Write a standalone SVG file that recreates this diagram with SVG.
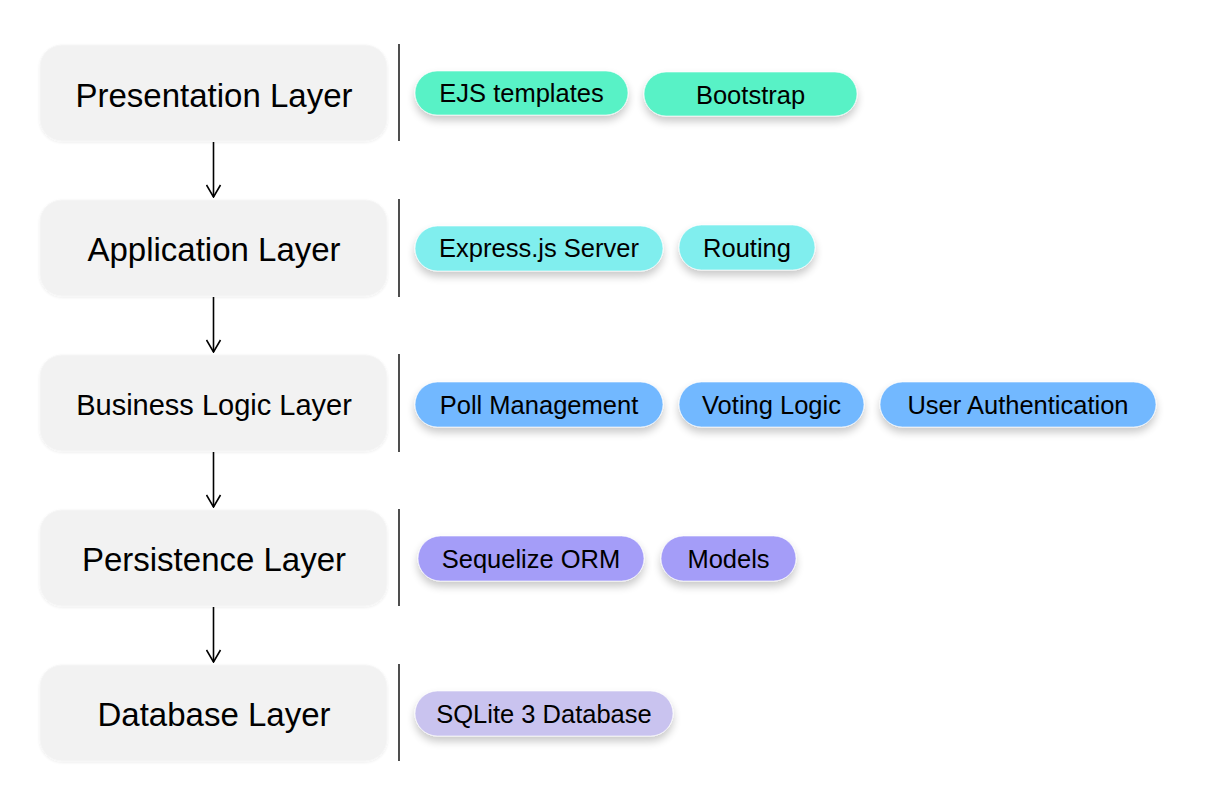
<svg xmlns="http://www.w3.org/2000/svg" width="1224" height="796" viewBox="0 0 1224 796">
<defs>
<filter id="sh" x="-20%" y="-40%" width="140%" height="200%">
<feGaussianBlur in="SourceAlpha" stdDeviation="4"/>
<feOffset dy="5" result="b"/>
<feComponentTransfer><feFuncA type="linear" slope="0.22"/></feComponentTransfer>
<feMerge><feMergeNode/><feMergeNode in="SourceGraphic"/></feMerge>
</filter>
<filter id="lsh" x="-10%" y="-20%" width="120%" height="140%">
<feGaussianBlur in="SourceAlpha" stdDeviation="1.5"/>
<feOffset dy="1" result="b"/>
<feComponentTransfer><feFuncA type="linear" slope="0.08"/></feComponentTransfer>
<feMerge><feMergeNode/><feMergeNode in="SourceGraphic"/></feMerge>
</filter>
<marker id="ah" viewBox="0 0 14 16" refX="13" refY="8" markerWidth="14" markerHeight="16" markerUnits="userSpaceOnUse" orient="auto">
<path d="M1,1 L13,8 L1,15" fill="none" stroke="#000" stroke-width="1.6"/>
</marker>
</defs>
<style>
.layer rect{fill:#f2f2f2;stroke:#f6f6f6;stroke-width:1}
.lt{font-family:"Liberation Sans",Arial,sans-serif;font-size:33px;fill:#000;text-anchor:middle}
.pt{font-family:"Liberation Sans",Arial,sans-serif;font-size:25.5px;fill:#000;text-anchor:middle}
.sep{stroke:#222;stroke-width:1.6}
.pill rect{stroke:#ffffff;stroke-opacity:0.6;stroke-width:1}
.c1{fill:#58f2c6}.c2{fill:#80eeee}.c3{fill:#72b8ff}.c4{fill:#a49df8}.c5{fill:#c9c3ef}
.conn line{stroke:#000;stroke-width:1.6;fill:none}
</style>
<rect width="1224" height="796" fill="#ffffff"/>

<g id="layer-presentation" class="layer">
<rect x="40" y="45" width="347" height="96" rx="22" filter="url(#lsh)"/>
<text class="lt" x="214" y="107">Presentation Layer</text>
</g>
<g id="layer-application" class="layer">
<rect x="40" y="200" width="347" height="96" rx="22" filter="url(#lsh)"/>
<text class="lt" x="214" y="261">Application Layer</text>
</g>
<g id="layer-business" class="layer">
<rect x="40" y="355" width="347" height="96" rx="22" filter="url(#lsh)"/>
<text class="lt" x="214" y="415" style="font-size:29px">Business Logic Layer</text>
</g>
<g id="layer-persistence" class="layer">
<rect x="40" y="510" width="347" height="96" rx="22" filter="url(#lsh)"/>
<text class="lt" x="214" y="571">Persistence Layer</text>
</g>
<g id="layer-database" class="layer">
<rect x="40" y="665" width="347" height="96" rx="22" filter="url(#lsh)"/>
<text class="lt" x="214" y="726">Database Layer</text>
</g>

<g id="separators">
<line class="sep" x1="399" y1="44" x2="399" y2="141"/>
<line class="sep" x1="399" y1="199" x2="399" y2="297"/>
<line class="sep" x1="399" y1="354" x2="399" y2="452"/>
<line class="sep" x1="399" y1="509" x2="399" y2="606"/>
<line class="sep" x1="399" y1="664" x2="399" y2="761"/>
</g>

<g id="pill-ejs" class="pill">
<rect class="c1" x="415" y="71" width="213" height="44" rx="22" filter="url(#sh)"/>
<text class="pt" x="521.5" y="102">EJS templates</text>
</g>
<g id="pill-bootstrap" class="pill">
<rect class="c1" x="644" y="72" width="213" height="44" rx="22" filter="url(#sh)"/>
<text class="pt" x="750.5" y="104">Bootstrap</text>
</g>

<g id="pill-express" class="pill">
<rect class="c2" x="415" y="226" width="248" height="45" rx="22.5" filter="url(#sh)"/>
<text class="pt" x="539" y="257">Express.js Server</text>
</g>
<g id="pill-routing" class="pill">
<rect class="c2" x="679" y="225" width="136" height="45" rx="22.5" filter="url(#sh)"/>
<text class="pt" x="747" y="257">Routing</text>
</g>

<g id="pill-poll" class="pill">
<rect class="c3" x="415" y="382" width="248" height="45" rx="22.5" filter="url(#sh)"/>
<text class="pt" x="539" y="414">Poll Management</text>
</g>
<g id="pill-voting" class="pill">
<rect class="c3" x="679" y="382" width="185" height="45" rx="22.5" filter="url(#sh)"/>
<text class="pt" x="771.5" y="414">Voting Logic</text>
</g>
<g id="pill-auth" class="pill">
<rect class="c3" x="880" y="382" width="276" height="45" rx="22.5" filter="url(#sh)"/>
<text class="pt" x="1018" y="414">User Authentication</text>
</g>

<g id="pill-sequelize" class="pill">
<rect class="c4" x="418" y="536" width="226" height="45" rx="22.5" filter="url(#sh)"/>
<text class="pt" x="531" y="568">Sequelize ORM</text>
</g>
<g id="pill-models" class="pill">
<rect class="c4" x="661" y="536" width="135" height="45" rx="22.5" filter="url(#sh)"/>
<text class="pt" x="728.5" y="568">Models</text>
</g>

<g id="pill-sqlite" class="pill">
<rect class="c5" x="415" y="691" width="258" height="45" rx="22.5" filter="url(#sh)"/>
<text class="pt" x="544" y="723">SQLite 3 Database</text>
</g>

<g id="connectors" class="conn">
<line x1="213.5" y1="142" x2="213.5" y2="197" marker-end="url(#ah)"/>
<line x1="213.5" y1="297" x2="213.5" y2="352" marker-end="url(#ah)"/>
<line x1="213.5" y1="452" x2="213.5" y2="507" marker-end="url(#ah)"/>
<line x1="213.5" y1="607" x2="213.5" y2="662" marker-end="url(#ah)"/>
</g>
</svg>
